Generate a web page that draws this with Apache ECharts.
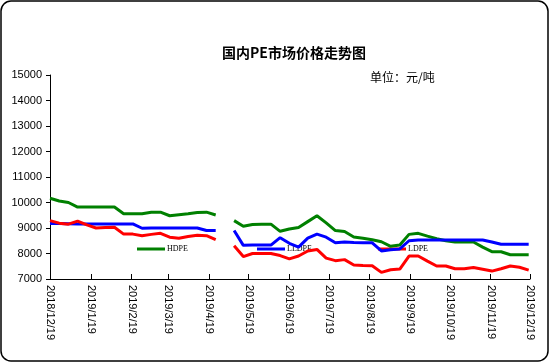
<!DOCTYPE html>
<html>
<head>
<meta charset="utf-8">
<script src="https://cdn.jsdelivr.net/npm/echarts@6/dist/echarts.min.js"></script>
<style>
html,body{margin:0;padding:0;background:#fff;}
#c{width:550px;height:364px;}
</style>
</head>
<body>
<div id="c"></div>
<script>
// ---- data ----
const dates = ['2018-12-19','2018-12-26','2019-01-02','2019-01-09','2019-01-16','2019-01-23','2019-01-30','2019-02-06','2019-02-13','2019-02-20','2019-02-27','2019-03-06','2019-03-13','2019-03-20','2019-03-27','2019-04-03','2019-04-10','2019-04-17','2019-04-24','2019-05-01','2019-05-08','2019-05-15','2019-05-22','2019-05-29','2019-06-05','2019-06-12','2019-06-19','2019-06-26','2019-07-03','2019-07-10','2019-07-17','2019-07-24','2019-07-31','2019-08-07','2019-08-14','2019-08-21','2019-08-28','2019-09-04','2019-09-11','2019-09-18','2019-09-25','2019-10-02','2019-10-09','2019-10-16','2019-10-23','2019-10-30','2019-11-06','2019-11-13','2019-11-20','2019-11-27','2019-12-04','2019-12-11','2019-12-18'];
const hdpe = [10165,10060,10000,9820,9820,9820,9820,9820,9560,9560,9560,9620,9620,9480,9520,9560,9610,9620,9510,null,9290,9070,9140,9150,9150,8870,8960,9020,9250,9480,9200,8900,8860,8650,8600,8540,8460,8280,8330,8750,8790,8680,8580,8500,8450,8450,8450,8250,8070,8070,7950,7950,7950];
const lldpe = [9180,9180,9170,9160,9160,9160,9160,9160,9160,9160,8990,9000,9000,9000,9000,9000,9000,8900,8900,null,8900,8320,8330,8330,8330,8620,8400,8250,8600,8760,8640,8420,8450,8430,8420,8420,8100,8150,8180,8500,8530,8530,8530,8530,8530,8530,8530,8530,8450,8360,8360,8360,8360];
const ldpe = [9290,9190,9150,9270,9120,9000,9020,9030,8760,8760,8700,8750,8790,8640,8600,8670,8720,8700,8540,null,8300,7880,8000,8000,8000,7920,7790,7900,8100,8160,7820,7720,7760,7550,7530,7520,7260,7360,7390,7900,7900,7700,7510,7510,7400,7400,7450,7380,7310,7400,7510,7460,7350];
const tickDates = ['2018-12-19','2019-01-19','2019-02-19','2019-03-19','2019-04-19','2019-05-19','2019-06-19','2019-07-19','2019-08-19','2019-09-19','2019-10-19','2019-11-19','2019-12-19'];
const seriesNames = ['HDPE','LLDPE','LDPE'];
const titleText = '国内PE市场价格走势图';
const unitText = '单位：元/吨';

function ts(s){ const p = s.split('-').map(Number); return Date.UTC(p[0], p[1]-1, p[2]) / 86400000; }
function pairs(vals){ return dates.map((d,i)=>[ts(d), vals[i]]); }
const tickVals = tickDates.map(ts);
function fmt(v){ const d = new Date(Math.round(v) * 86400000); return d.getUTCFullYear()+'/'+(d.getUTCMonth()+1)+'/'+d.getUTCDate(); }

const chart = echarts.init(document.getElementById('c'), null, {renderer:'canvas'});
const lineSeries = (name, vals, color) => ({
  name, type:'line', data: pairs(vals), showSymbol:false, symbol:'none', z:3,
  connectNulls:false, lineStyle:{color, width:3}, itemStyle:{color}, animation:false
});
const legendCommon = {
  orient:'horizontal', icon:'rect', itemWidth:28, itemHeight:3, itemGap:0, z:1,
  textStyle:{fontSize:8, fontFamily:'Liberation Serif', color:'#000', padding:[0,0,0,-3]},
  selectedMode:false, top:240
};
chart.setOption({
  backgroundColor:'#fff',
  animation:false,
  title:[
    {text:titleText, left:217, top:41, textStyle:{fontSize:14, fontWeight:'bold', color:'#000', fontFamily:'Noto Sans CJK SC'}},
    {text:unitText, left:365, top:66, textStyle:{fontSize:12, fontWeight:'normal', color:'#000', fontFamily:'Noto Sans CJK SC'}}
  ],
  legend:[
    Object.assign({}, legendCommon, {data:['HDPE'], left:132}),
    Object.assign({}, legendCommon, {data:['LLDPE'], left:252}),
    Object.assign({}, legendCommon, {data:['LDPE'], left:373})
  ],
  grid:{left:50, right:20, top:75, bottom:85, containLabel:false},
  xAxis:{
    type:'value', min:tickVals[0], max:tickVals[tickVals.length-1], scale:true,
    axisLine:{lineStyle:{color:'#000', width:1}},
    axisTick:{show:true, inside:true, length:5, customValues:tickVals, lineStyle:{color:'#000'}},
    axisLabel:{customValues:tickVals, formatter:fmt, rotate:-90, fontSize:11, fontFamily:'Arial, Liberation Sans', color:'#000', margin:6, showMinLabel:true, showMaxLabel:true},
    splitLine:{show:false}
  },
  yAxis:{
    type:'value', min:7000, max:15000, interval:1000,
    axisLine:{show:true, lineStyle:{color:'#000', width:1}},
    axisTick:{show:true, inside:false, length:4, lineStyle:{color:'#000'}},
    axisLabel:{formatter:function(v){return String(v);}, fontSize:11, fontFamily:'Arial, Liberation Sans', color:'#000', margin:8},
    splitLine:{show:false}
  },
  series:[
    lineSeries(seriesNames[0], hdpe, '#008000'),
    lineSeries(seriesNames[1], lldpe, '#0000ff'),
    lineSeries(seriesNames[2], ldpe, '#ff0000')
  ],
  graphic:[{
    type:'rect', z:100, silent:true,
    shape:{x:1, y:1, width:547, height:360, r:10},
    style:{fill:null, stroke:'#000', lineWidth:1.5}
  }]
});
</script>
</body>
</html>
